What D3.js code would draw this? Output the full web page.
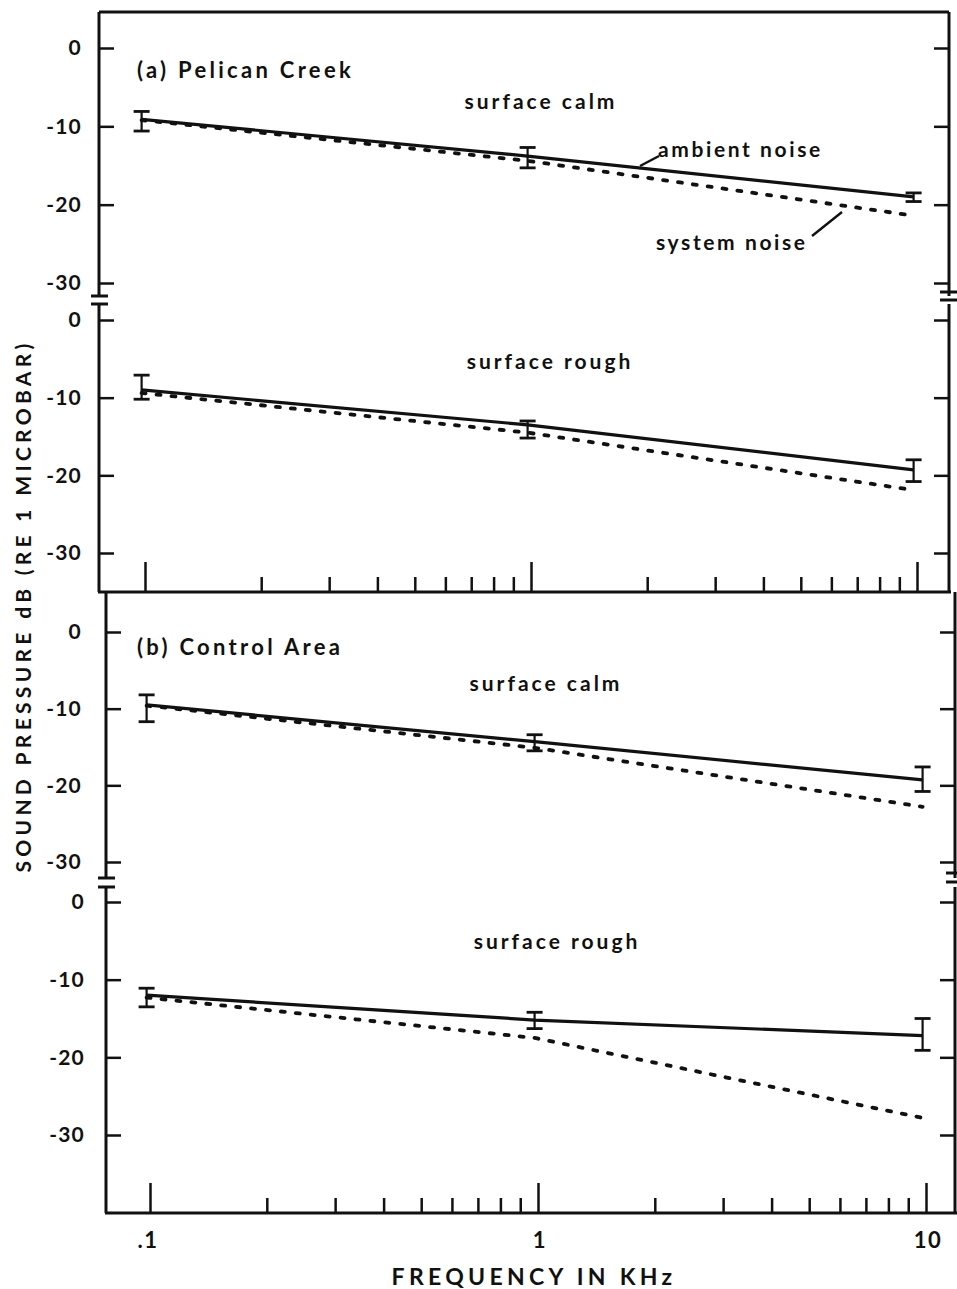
<!DOCTYPE html>
<html><head><meta charset="utf-8">
<script src="https://cdn.jsdelivr.net/npm/d3@7"></script>
<style>
body{margin:0;background:#fff;}
svg text{font-family:Lato,"Open Sans",sans-serif;font-weight:700;fill:#111;}
</style></head>
<body><svg id="c" width="957" height="1289"></svg>
<script>
// ---- data ----
const freqKHz = [0.098, 0.98, 9.8];
const yTickValues = [0, -10, -20, -30];
const xMajorTicks = [0.1, 1, 10];
const xMinorTicks = [0.2,0.3,0.4,0.5,0.6,0.7,0.8,0.9,2,3,4,5,6,7,8,9];
const xTickLabels = [".1", "1", "10"];

const pelicanCalmAmbient = [-9.1, -13.8, -19.0];
const pelicanCalmErrHigh = [-8.1, -12.7, -18.5];
const pelicanCalmErrLow  = [-10.6, -15.3, -19.6];
const pelicanCalmSystem  = [-9.2, -14.4, -21.4];

const pelicanRoughAmbient = [-9.0, -13.5, -19.3];
const pelicanRoughErrHigh = [-7.1, -13.0, -18.0];
const pelicanRoughErrLow  = [-10.2, -15.2, -20.8];
const pelicanRoughSystem  = [-9.4, -14.5, -21.9];

const controlCalmAmbient = [-9.5, -14.3, -19.3];
const controlCalmErrHigh = [-8.2, -13.4, -17.6];
const controlCalmErrLow  = [-11.7, -15.5, -20.8];
const controlCalmSystem  = [-9.6, -15.1, -22.8];

const controlRoughAmbient = [-12.0, -15.2, -17.2];
const controlRoughErrHigh = [-11.1, -14.2, -15.0];
const controlRoughErrLow  = [-13.5, -16.3, -19.1];
const controlRoughSystem  = [-12.3, -17.5, -27.8];

// ---- layout ----
const svg = d3.select("#c");
const ink = "#111";

const panels = [
  {left:99, right:949, top:12, bottom:592, x0:145, x1:917, title:"(a) Pelican Creek",
   subs:[
     {y0:48, y30:283, axTop:12, axBot:296, label:"surface calm", lx:541, ly:109, lblPad:17,
      amb:pelicanCalmAmbient, hi:pelicanCalmErrHigh, lo:pelicanCalmErrLow, sys:pelicanCalmSystem},
     {y0:320, y30:553, axTop:304, axBot:592, label:"surface rough", lx:550, ly:369, lblPad:17,
      amb:pelicanRoughAmbient, hi:pelicanRoughErrHigh, lo:pelicanRoughErrLow, sys:pelicanRoughSystem}
   ], titleY:78, breakY:[296,304], rBreakY:[292,300]},
  {left:106, right:955, top:592, bottom:1213, x0:150, x1:926, title:"(b) Control Area",
   subs:[
     {y0:632, y30:862, axTop:592, axBot:878, label:"surface calm", lx:546, ly:691, lblPad:24,
      amb:controlCalmAmbient, hi:controlCalmErrHigh, lo:controlCalmErrLow, sys:controlCalmSystem},
     {y0:902, y30:1135, axTop:887, axBot:1213, label:"surface rough", lx:557, ly:949, lblPad:21,
      amb:controlRoughAmbient, hi:controlRoughErrHigh, lo:controlRoughErrLow, sys:controlRoughSystem}
   ], titleY:655, breakY:[878,887], rBreakY:[873,882]}
];

panels.forEach((p, pi) => {
  const x = d3.scaleLog().domain([0.1, 10]).range([p.x0, p.x1]);
  const g = svg.append("g");

  if (pi === 0) g.append("line").attr("x1", p.left).attr("x2", p.right).attr("y1", p.top).attr("y2", p.top)
      .attr("stroke", ink).attr("stroke-width", 3);
  g.append("line").attr("x1", p.left - 1).attr("x2", p.right + 2).attr("y1", p.bottom).attr("y2", p.bottom)
      .attr("stroke", ink).attr("stroke-width", 3);

  const xMajor = d3.axisTop(x).tickValues(xMajorTicks).tickSize(30).tickFormat("");
  const xMinor = d3.axisTop(x).tickValues(xMinorTicks).tickSize(15).tickFormat("");
  [xMajor, xMinor].forEach(ax => {
    const a = g.append("g").attr("transform", `translate(0,${p.bottom})`).call(ax);
    a.select(".domain").remove();
    a.selectAll("line").attr("stroke", ink).attr("stroke-width", 2.5);
  });

  p.subs.forEach(s => {
    const y = d3.scaleLinear().domain([0, -30]).range([s.y0, s.y30]);
    g.append("line").attr("x1", p.left).attr("x2", p.left).attr("y1", s.axTop).attr("y2", s.axBot)
      .attr("stroke", ink).attr("stroke-width", 3);
    g.append("line").attr("x1", p.right).attr("x2", p.right).attr("y1", s.axTop).attr("y2", Math.min(s.axBot, p.bottom))
      .attr("stroke", ink).attr("stroke-width", 3);
    const lt = g.append("g").attr("transform", `translate(${p.left},0)`)
      .call(d3.axisRight(y).tickValues(yTickValues).tickSize(15).tickFormat(""));
    lt.select(".domain").remove();
    lt.selectAll("line").attr("stroke", ink).attr("stroke-width", 2.5);
    const rt = g.append("g").attr("transform", `translate(${p.right},0)`)
      .call(d3.axisLeft(y).tickValues(yTickValues).tickSize(15).tickFormat(""));
    rt.select(".domain").remove();
    rt.selectAll("line").attr("stroke", ink).attr("stroke-width", 2.5);
    const lab = g.append("g").attr("transform", `translate(${p.left},0)`)
      .call(d3.axisLeft(y).tickValues(yTickValues).tickSize(0).tickPadding(s.lblPad).tickFormat(d => d === 0 ? "0" : "-" + Math.abs(d)));
    lab.select(".domain").remove();
    lab.selectAll("text").attr("font-size", 21).attr("font-family", "Lato, sans-serif").attr("font-weight", 700)
      .attr("fill", ink).attr("letter-spacing", 1.2);

    const line = d3.line().x((d, i) => x(freqKHz[i])).y(d => y(d));
    g.append("path").attr("d", line(s.sys)).attr("fill", "none").attr("stroke", ink)
      .attr("stroke-width", 3.8).attr("stroke-dasharray", "4,11").attr("stroke-linecap", "round");
    g.append("path").attr("d", line(s.amb)).attr("fill", "none").attr("stroke", ink).attr("stroke-width", 3.2);
    freqKHz.forEach((f, i) => {
      const cx = x(f);
      g.append("line").attr("x1", cx).attr("x2", cx).attr("y1", y(s.hi[i])).attr("y2", y(s.lo[i]))
        .attr("stroke", ink).attr("stroke-width", 2.2);
      [s.hi[i], s.lo[i]].forEach(v => g.append("line").attr("x1", cx - 8).attr("x2", cx + 8)
        .attr("y1", y(v)).attr("y2", y(v)).attr("stroke", ink).attr("stroke-width", 2.8));
    });
    g.append("text").attr("x", s.lx).attr("y", s.ly).attr("text-anchor", "middle")
      .attr("font-size", 21).attr("letter-spacing", 3).text(s.label);
  });

  p.breakY.forEach(by => g.append("line").attr("x1", p.left - 8).attr("x2", p.left + 9).attr("y1", by).attr("y2", by)
    .attr("stroke", ink).attr("stroke-width", 3));
  p.rBreakY.forEach(by => g.append("line").attr("x1", p.right - 9).attr("x2", p.right + 8).attr("y1", by).attr("y2", by)
    .attr("stroke", ink).attr("stroke-width", 3));

  g.append("text").attr("x", 137).attr("y", p.titleY).attr("font-size", 22).attr("letter-spacing", 3.3).text(p.title);

  if (pi === 1) {
    xMajorTicks.forEach((v, i) => g.append("text").attr("x", x(v) + (i === 0 ? -2 : 2)).attr("y", 1248)
      .attr("text-anchor", "middle").attr("font-size", 22).attr("letter-spacing", 1.5).text(xTickLabels[i]));
  }
});

// annotations
svg.append("text").attr("x", 658).attr("y", 157).attr("font-size", 21).attr("letter-spacing", 2.6).text("ambient noise");
svg.append("line").attr("x1", 640).attr("y1", 166).attr("x2", 659).attr("y2", 156).attr("stroke", ink).attr("stroke-width", 2.5);
svg.append("text").attr("x", 656).attr("y", 250).attr("font-size", 21).attr("letter-spacing", 2.6).text("system noise");
svg.append("line").attr("x1", 812).attr("y1", 236).attr("x2", 842).attr("y2", 212).attr("stroke", ink).attr("stroke-width", 2.5);

// axis titles
svg.append("text").attr("transform", "translate(31,606) rotate(-90)").attr("text-anchor", "middle")
  .attr("font-size", 21).attr("letter-spacing", 4.3).text("SOUND PRESSURE dB (RE 1 MICROBAR)");
svg.append("text").attr("x", 534).attr("y", 1285).attr("text-anchor", "middle")
  .attr("font-size", 23).attr("letter-spacing", 4.3).text("FREQUENCY IN KHz");
</script></body></html>
